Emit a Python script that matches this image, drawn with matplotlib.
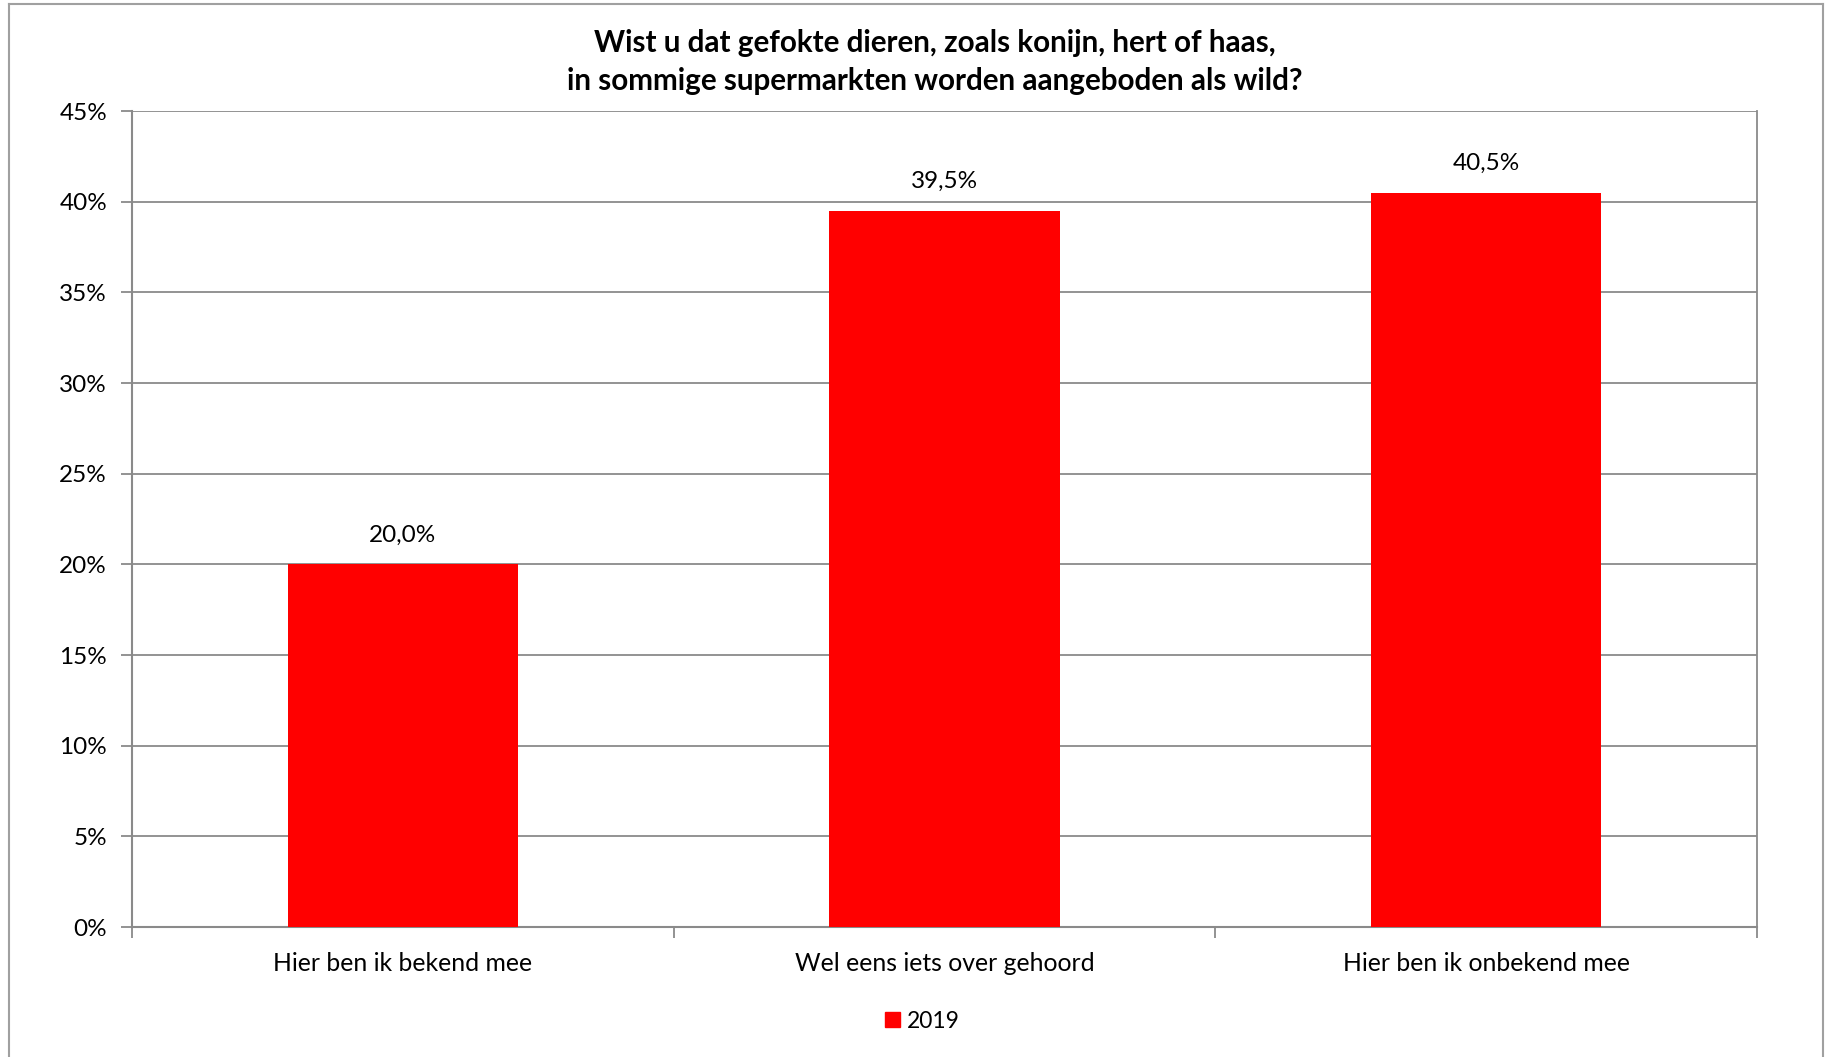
import matplotlib
matplotlib.use("Agg")
import matplotlib.pyplot as plt
from matplotlib.patches import Patch
from matplotlib.lines import Line2D
from matplotlib.ticker import MultipleLocator, FuncFormatter

# data
categories = ["Hier ben ik bekend mee", "Wel eens iets over gehoord", "Hier ben ik onbekend mee"]
values_2019 = [20.0, 39.5, 40.5]
series_name = "2019"
title = "Wist u dat gefokte dieren, zoals konijn, hert of haas,\nin sommige supermarkten worden aangeboden als wild?"

RED = "#FF0000"; GRID = "#8A8A8A"
plt.rcParams["font.family"] = ["Lato", "DejaVu Sans"]

fig = plt.figure(figsize=(18.29, 10.57), dpi=100)
ax = fig.add_axes([132 / 1829, 1 - 927 / 1057, (1757 - 132) / 1829, (927 - 111) / 1057])

x = range(len(categories))
bars = ax.bar(x, values_2019, width=0.425, color=RED, zorder=3, label=series_name)
for b, v in zip(bars, values_2019):
    ax.annotate(f"{v:.1f}%".replace(".", ","), (b.get_x() + b.get_width() / 2, v),
                xytext=(0, 21), textcoords="offset points", ha="center", va="center", fontsize=17.5)

ax.set_xlim(-0.5, len(categories) - 0.5)
ax.set_ylim(0, 45)
ax.yaxis.set_major_locator(MultipleLocator(5))
ax.yaxis.set_major_formatter(FuncFormatter(lambda v, _: f"{v:.0f}%"))
ax.grid(axis="y", color=GRID, lw=1.3, zorder=0)

# category labels centred, ticks on the boundaries
ax.set_xticks([i - 0.5 for i in range(len(categories) + 1)])
ax.set_xticklabels([])
ax.set_xticks(list(x), minor=True)
ax.set_xticklabels(categories, minor=True, fontsize=17.8)
ax.tick_params(axis="x", which="minor", length=0, pad=18)
ax.tick_params(axis="x", which="major", length=8, color=GRID, width=1.3, direction="out")
ax.tick_params(axis="y", length=8, color=GRID, width=1.3, direction="out", labelsize=17.5, pad=10)

for s in ["top", "right"]:
    ax.spines[s].set_visible(False)
for s in ["left", "bottom"]:
    ax.spines[s].set_color(GRID); ax.spines[s].set_linewidth(1.5)
ax.plot([1, 1], [0, 1], transform=ax.transAxes, color=GRID, lw=1.3, zorder=1, clip_on=False)

fig.text(935 / 1829, 1 - 62 / 1057, title, ha="center", va="center", fontsize=21.3,
         fontweight="bold", linespacing=1.42)

fig.legend(handles=[Patch(color=RED, label=series_name)], loc="center",
           bbox_to_anchor=(922 / 1829, 1 - 1021 / 1057), frameon=False, fontsize=16.5,
           handlelength=0.65, handleheight=0.65, handletextpad=0.3)

# outer chart border
for xs, ys in [([9, 9], [4, 1057]), ([9, 1823], [4, 4]), ([1823, 1823], [4, 1057])]:
    fig.add_artist(Line2D([v / 1829 for v in xs], [1 - v / 1057 for v in ys], color="#A0A0A0", lw=1.5))

fig.savefig("out.png", dpi=100)
